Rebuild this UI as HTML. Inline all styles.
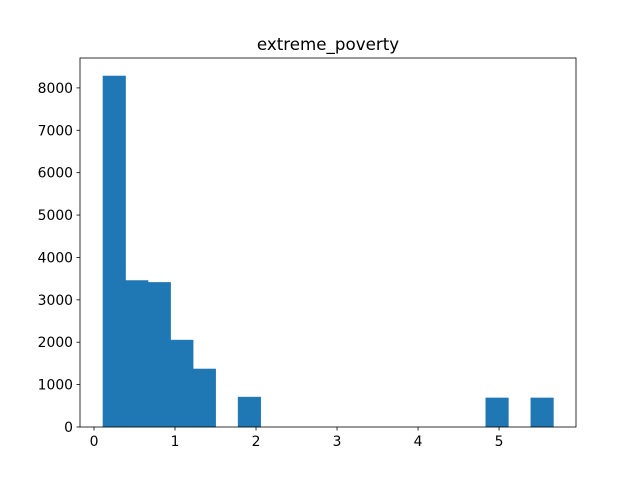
<!DOCTYPE html>
<html><head><meta charset="utf-8"><style>
body{margin:0;background:#fff;}
svg text{font-family:"DejaVu Sans","Liberation Sans",sans-serif;font-size:13.9px;fill:#000;}
</style></head><body>
<svg id="chart" width="640" height="480"></svg>
<script>
const binStart = 0.111;
const binWidth = 0.278;
const counts = [8280,3455,3410,2050,1368,0,705,0,0,0,0,0,0,0,0,0,0,685,0,685];
const xTicks = [0,1,2,3,4,5];
const yTicks = [0,1000,2000,3000,4000,5000,6000,7000,8000];
const title = "extreme_poverty";

const L=80,R=576,T=58,B=427;
const xMin=-0.173,xMax=5.95,yMax=8705;
const xs=v=>L+(v-xMin)/(xMax-xMin)*(R-L);
const ys=v=>B-v/yMax*(B-T);
const svg=document.getElementById('chart');
const NS='http://www.w3.org/2000/svg';
function mk(tag,attrs,parent){const e=document.createElementNS(NS,tag);for(const k in attrs)e.setAttribute(k,attrs[k]);(parent||svg).appendChild(e);return e;}
counts.forEach((c,i)=>{
  if(!c)return;
  const x0=xs(binStart+i*binWidth),x1=xs(binStart+(i+1)*binWidth);
  const r=mk('rect',{x:x0,y:ys(c),width:x1-x0,height:ys(0)-ys(c),fill:'#1f77b4',stroke:'#1f77b4','stroke-width':0.6});
  
  
});
const frame=mk('rect',{x:L,y:T,width:R-L,height:B-T,fill:'none',stroke:'#000','stroke-width':0.8});


xTicks.forEach(t=>{
  const x=xs(t);
  mk('line',{x1:x,x2:x,y1:B,y2:B+3.5,stroke:'#000','stroke-width':0.8});
  const tx=mk('text',{x:x,y:B+19,'text-anchor':'middle'});tx.textContent=t;
  
  
});
yTicks.forEach(t=>{
  const y=ys(t);
  mk('line',{x1:L-3.5,x2:L,y1:y,y2:y,stroke:'#000','stroke-width':0.8});
  const tx=mk('text',{x:L-7,y:y+5,'text-anchor':'end'});tx.textContent=t;
  
  
});
const ti=mk('text',{x:(L+R)/2,y:T-8,'text-anchor':'middle',style:'font-size:16.7px'});
ti.textContent=title;


</script>
</body></html>
